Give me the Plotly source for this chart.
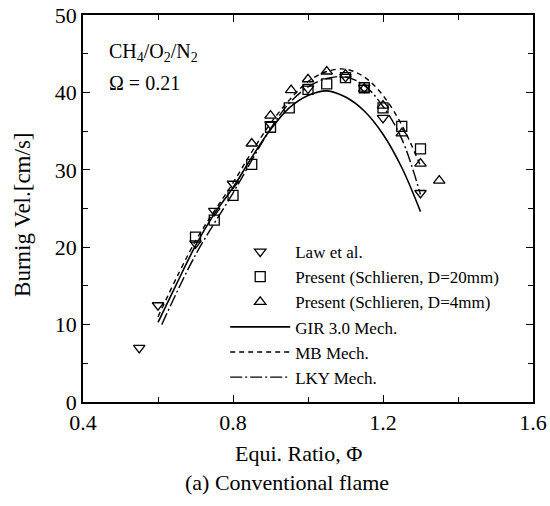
import plotly.graph_objects as go

# Experimental data
law_x = [0.55, 0.60, 0.70, 0.75, 0.80, 0.90, 1.00, 1.10, 1.15, 1.20, 1.30]
law_y = [7.0, 12.5, 20.5, 24.7, 28.2, 35.9, 40.5, 42.0, 40.6, 36.7, 27.0]

sq_x = [0.70, 0.75, 0.80, 0.85, 0.90, 0.95, 1.00, 1.05, 1.10, 1.15, 1.20, 1.25, 1.30]
sq_y = [21.3, 23.5, 26.7, 30.7, 35.5, 38.0, 40.4, 41.1, 41.9, 40.6, 38.0, 35.6, 32.7]

tri_x = [0.85, 0.90, 0.955, 1.00, 1.05, 1.10, 1.15, 1.20, 1.25, 1.30, 1.35]
tri_y = [33.4, 37.0, 40.3, 41.7, 42.7, 42.3, 40.5, 38.3, 34.7, 30.8, 28.6]

# Model curves
gir_x = [0.60, 0.65, 0.70, 0.75, 0.80, 0.85, 0.90, 0.95, 1.00, 1.05, 1.10, 1.15, 1.20, 1.25, 1.30]
gir_y = [10.3, 15.3, 20.2, 24.3, 27.7, 31.6, 35.2, 38.0, 39.6, 40.2, 39.4, 37.6, 34.6, 30.3, 24.6]

mb_x = [0.60, 0.70, 0.80, 0.85, 0.90, 0.95, 1.00, 1.05, 1.10, 1.15, 1.20, 1.25, 1.30]
mb_y = [11.0, 20.8, 28.3, 32.3, 36.0, 39.0, 41.4, 42.7, 43.0, 42.0, 39.6, 35.8, 30.5]

lky_x = [0.61, 0.70, 0.80, 0.90, 0.95, 1.00, 1.05, 1.10, 1.15, 1.20, 1.25, 1.30]
lky_y = [10.0, 19.0, 27.0, 35.3, 38.6, 40.7, 41.8, 42.0, 40.9, 38.2, 34.0, 26.8]

FONT = "Liberation Serif"
BLACK = "black"

fig = go.Figure()

fig.add_trace(go.Scatter(x=law_x, y=law_y, mode="markers", name="Law et al.",
                         marker=dict(symbol="triangle-down-open", size=10, color=BLACK,
                                     line=dict(width=1.3))))
fig.add_trace(go.Scatter(x=sq_x, y=sq_y, mode="markers", name="Present (Schlieren, D=20mm)",
                         marker=dict(symbol="square-open", size=10, color=BLACK,
                                     line=dict(width=1.3))))
fig.add_trace(go.Scatter(x=tri_x, y=tri_y, mode="markers", name="Present (Schlieren, D=4mm)",
                         marker=dict(symbol="triangle-up-open", size=10, color=BLACK,
                                     line=dict(width=1.3))))
fig.add_trace(go.Scatter(x=gir_x, y=gir_y, mode="lines", name="GIR 3.0 Mech.",
                         line=dict(color=BLACK, width=1.6, shape="spline")))
fig.add_trace(go.Scatter(x=mb_x, y=mb_y, mode="lines", name="MB Mech.",
                         line=dict(color=BLACK, width=1.4, dash="5px,4px", shape="spline")))
fig.add_trace(go.Scatter(x=lky_x, y=lky_y, mode="lines", name="LKY Mech.",
                         line=dict(color=BLACK, width=1.4, dash="12px,3px,2px,3px", shape="spline")))

axis_common = dict(
    showline=True, linecolor=BLACK, linewidth=1.5, mirror="ticks",
    ticks="inside", ticklen=7, tickwidth=1.3, tickcolor=BLACK,
    showgrid=False, zeroline=False,
    tickfont=dict(family=FONT, size=22, color=BLACK),
)

fig.update_xaxes(range=[0.4, 1.6], tick0=0.4, dtick=0.4, tickformat=".1f",
                 minor=dict(ticks="inside", dtick=0.2, tick0=0.4, ticklen=5, tickcolor=BLACK, tickwidth=1.2),
                 **axis_common)
fig.update_yaxes(range=[0, 50], tick0=0, dtick=10,
                 minor=dict(ticks="inside", dtick=5, ticklen=5, tickcolor=BLACK, tickwidth=1.2),
                 **axis_common)

fig.add_annotation(x=0.053, y=0.904, xref="paper", yref="paper", xanchor="left", yanchor="middle",
                   text="CH<sub>4</sub>/O<sub>2</sub>/N<sub>2</sub>", showarrow=False,
                   font=dict(family=FONT, size=20, color=BLACK))
fig.add_annotation(x=0.053, y=0.824, xref="paper", yref="paper", xanchor="left", yanchor="middle",
                   text="Ω = 0.21", showarrow=False,
                   font=dict(family=FONT, size=20, color=BLACK))
fig.add_annotation(x=0.478, y=-0.132, xref="paper", yref="paper", xanchor="center", yanchor="middle",
                   text="Equi. Ratio, Φ", showarrow=False,
                   font=dict(family=FONT, size=22, color=BLACK))
fig.add_annotation(x=0.453, y=-0.209, xref="paper", yref="paper", xanchor="center", yanchor="middle",
                   text="(a) Conventional flame", showarrow=False,
                   font=dict(family=FONT, size=22, color=BLACK))
fig.add_annotation(x=-0.136, y=0.483, xref="paper", yref="paper", xanchor="center", yanchor="middle",
                   text="Burnig Vel.[cm/s]", textangle=-90, showarrow=False,
                   font=dict(family=FONT, size=23, color=BLACK))

fig.update_layout(
    width=550, height=506,
    margin=dict(l=83, r=17, t=15, b=104, autoexpand=False),
    paper_bgcolor="white", plot_bgcolor="white",
    font=dict(family=FONT, color=BLACK),
    legend=dict(x=0.316, y=0.434, xanchor="left", yanchor="top",
                bgcolor="rgba(0,0,0,0)", borderwidth=0,
                font=dict(family=FONT, size=17, color=BLACK),
                tracegroupgap=0, itemwidth=60),
)

fig.write_html("out.html")
